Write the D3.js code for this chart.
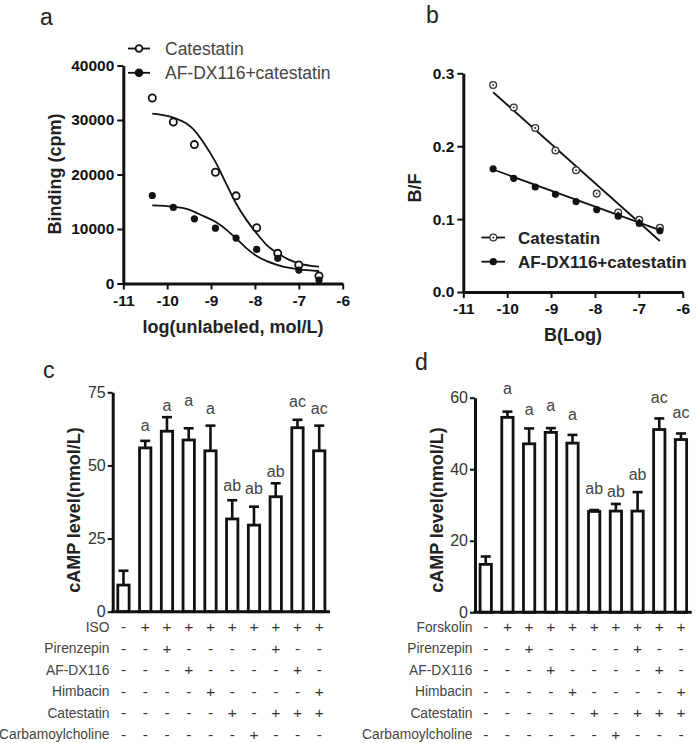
<!DOCTYPE html>
<html>
<head>
<meta charset="UTF-8">
<style>
  body { margin: 0; background: #fff; }
  svg { display: block; font-family: "Liberation Sans", Arial, sans-serif; }
  .tick text { font-family: "Liberation Sans", Arial, sans-serif; }
</style>
</head>
<body>
<svg></svg>
<script src="https://d3js.org/d3.v7.min.js"></script>
<script>
let width = 697, height = 743;

// ---- panel a : competitive binding ----
var bindX   = [-10.34, -9.86, -9.38, -8.9, -8.43, -7.96, -7.48, -7.0, -6.54];
var bindCat = [34030, 29630, 25490, 20420, 16080, 10220, 5530, 3390, 1370];
var bindAF  = [16150, 13960, 11870, 10160, 8330, 6260, 4620, 2470, 640];
// fitted curves
var fitX    = [-10.34, -9.86, -9.56, -9.38, -9.18, -8.9, -8.64, -8.43, -8.19, -7.96, -7.73, -7.48, -7.24, -7.0, -6.54];
var fitCat  = [31170, 30440, 29340, 28110, 25970, 22310, 18040, 14690, 11630, 9190, 7050, 5530, 4430, 3700, 3080];
var fitAF   = [14320, 14070, 13700, 13150, 12400, 11320, 9800, 8280, 6450, 5040, 4100, 3390, 2900, 2600, 2290];

// ---- panel b : B/F plot ----
var scatX = [-10.32, -9.85, -9.36, -8.9, -8.43, -7.96, -7.47, -6.99, -6.52];
var bfCat = [0.284, 0.253, 0.225, 0.194, 0.167, 0.135, 0.109, 0.099, 0.088];
var bfAF  = [0.169, 0.156, 0.144, 0.134, 0.124, 0.113, 0.104, 0.094, 0.084];
var lineCat = [[-10.32, 0.274], [-6.52, 0.070]];
var lineAF  = [[-10.32, 0.168], [-6.52, 0.085]];

var seriesNames = ["Catestatin", "AF-DX116+catestatin"];
var logTicks = [-11, -10, -9, -8, -7, -6];

// ---- panels c, d : cAMP ----
var groups = d3.range(1, 11);
var cMean = [9.1, 56.0, 61.7, 58.7, 55.0, 31.7, 29.6, 39.3, 62.9, 55.0];
var cSem  = [4.9, 2.4, 4.8, 4.0, 8.6, 6.4, 6.3, 4.6, 2.7, 8.6];
var cSigAt = [null, 63.2, 70.3, 72.0, 69.0, 42.7, 41.9, 47.5, 71.5, 69.2];
var dMean = [13.4, 54.5, 47.1, 50.3, 47.3, 28.2, 28.3, 28.3, 51.1, 48.3];
var dSem  = [2.2, 1.6, 4.3, 1.2, 2.3, 0.4, 2.0, 5.3, 3.1, 1.7];
var dSigAt = [null, 62.3, 56.5, 57.6, 55.1, 34.2, 33.6, 38.2, 59.8, 55.6];
var sigLabels = ["", "a", "a", "a", "a", "ab", "ab", "ab", "ac", "ac"];

var cRows = ["ISO", "Pirenzepin", "AF-DX116", "Himbacin", "Catestatin", "Carbamoylcholine"];
var dRows = ["Forskolin", "Pirenzepin", "AF-DX116", "Himbacin", "Catestatin", "Carbamoylcholine"];
var treat = [
  "-+++++++++",
  "--+----+--",
  "---+----+-",
  "----+----+",
  "-----+-+++",
  "------+---"
];

let svg = d3.select("svg")
    .attr("width", width)
    .attr("height", height)
    .attr("viewBox", "0 0 " + width + " " + height);

// plain hyphen for negatives, like the original figure
let hyphenFmt = d => String(d);

function styleAxis(g, fontSize, weight, color) {
    g.select(".domain").attr("stroke", "#111").attr("stroke-width", 3);
    g.selectAll(".tick line").attr("stroke", "#111").attr("stroke-width", 2);
    g.selectAll(".tick text")
        .attr("font-size", fontSize)
        .attr("font-weight", weight)
        .attr("fill", color);
}

function panelLetter(t, x, y) {
    svg.append("text").attr("x", x).attr("y", y)
        .attr("font-size", 23).attr("fill", "#222").text(t);
}

function yTitle(t, x, y) {
    svg.append("text")
        .attr("transform", "translate(" + x + "," + y + ") rotate(-90)")
        .attr("text-anchor", "middle")
        .attr("font-size", 18).attr("font-weight", "bold").attr("fill", "#222")
        .text(t);
}

// ================= panel a =================
panelLetter("a", 40, 25);
let ax = d3.scaleLinear().domain([-11, -6]).range([123.3, 342.7]);
let ay = d3.scaleLinear().domain([0, 40000]).range([283.5, 65.5]);

svg.append("g").attr("transform", "translate(0,283.5)")
    .call(d3.axisBottom(ax).tickValues(logTicks).tickFormat(hyphenFmt).tickSize(6).tickSizeOuter(0).tickPadding(5))
    .call(g => styleAxis(g, 15.5, "bold", "#111"));
svg.append("g").attr("transform", "translate(123.3,0)")
    .call(d3.axisLeft(ay).tickValues([0, 10000, 20000, 30000, 40000]).tickFormat(d3.format("d")).tickSize(6).tickSizeOuter(0).tickPadding(3))
    .call(g => styleAxis(g, 15.5, "bold", "#111"));

svg.append("text").attr("x", 233).attr("y", 333)
    .attr("text-anchor", "middle").attr("font-size", 18).attr("font-weight", "bold").attr("fill", "#222")
    .text("log(unlabeled, mol/L)");
yTitle("Binding (cpm)", 61, 174);

let fitLine = d3.line().x((d, i) => ax(fitX[i])).y(d => ay(d)).curve(d3.curveMonotoneX);
[fitCat, fitAF].forEach(s => {
    svg.append("path").attr("d", fitLine(s))
        .attr("fill", "none").attr("stroke", "#111").attr("stroke-width", 1.8);
});
svg.append("g").selectAll("circle").data(bindCat).enter().append("circle")
    .attr("cx", (d, i) => ax(bindX[i])).attr("cy", d => ay(d)).attr("r", 3.6)
    .attr("fill", "#fff").attr("stroke", "#111").attr("stroke-width", 1.8);
svg.append("g").selectAll("circle").data(bindAF).enter().append("circle")
    .attr("cx", (d, i) => ax(bindX[i])).attr("cy", d => ay(d)).attr("r", 3.6)
    .attr("fill", "#111");

// legend a
seriesNames.forEach((n, i) => {
    let y = 48.5 + i * 24.3;
    svg.append("line").attr("x1", 128).attr("x2", 150).attr("y1", y).attr("y2", y)
        .attr("stroke", "#111").attr("stroke-width", 1.8);
    svg.append("circle").attr("cx", 139).attr("cy", y).attr("r", 3.4)
        .attr("fill", i == 0 ? "#fff" : "#111").attr("stroke", "#111").attr("stroke-width", 1.8);
    svg.append("text").attr("x", 165).attr("y", y).attr("dy", "0.36em")
        .attr("font-size", 17.5).attr("fill", "#444").text(n);
});

// ================= panel b =================
panelLetter("b", 426, 23);
let bx = d3.scaleLinear().domain([-11, -6]).range([463.3, 682.7]);
let by = d3.scaleLinear().domain([0, 0.3]).range([292, 73.3]);

svg.append("g").attr("transform", "translate(0,292)")
    .call(d3.axisBottom(bx).tickValues(logTicks).tickFormat(hyphenFmt).tickSize(6).tickSizeOuter(0).tickPadding(5))
    .call(g => styleAxis(g, 15.5, "bold", "#111"));
svg.append("g").attr("transform", "translate(463.3,0)")
    .call(d3.axisLeft(by).tickValues([0, 0.1, 0.2, 0.3]).tickFormat(d3.format(".1f")).tickSize(6).tickSizeOuter(0).tickPadding(3))
    .call(g => styleAxis(g, 15.5, "bold", "#111"));

svg.append("text").attr("x", 573).attr("y", 341)
    .attr("text-anchor", "middle").attr("font-size", 18).attr("font-weight", "bold").attr("fill", "#222")
    .text("B(Log)");
yTitle("B/F", 421, 188);

let segLine = d3.line().x(d => bx(d[0])).y(d => by(d[1]));
[lineCat, lineAF].forEach(s => {
    svg.append("path").attr("d", segLine(s))
        .attr("fill", "none").attr("stroke", "#111").attr("stroke-width", 1.8);
});
let catG = svg.append("g").selectAll("g").data(bfCat).enter().append("g")
    .attr("transform", (d, i) => "translate(" + bx(scatX[i]) + "," + by(d) + ")");
catG.append("circle").attr("r", 3.4).attr("fill", "#fff").attr("stroke", "#333").attr("stroke-width", 1.3);
catG.append("circle").attr("r", 1).attr("fill", "#333");
svg.append("g").selectAll("circle").data(bfAF).enter().append("circle")
    .attr("cx", (d, i) => bx(scatX[i])).attr("cy", d => by(d)).attr("r", 3.6)
    .attr("fill", "#111");

seriesNames.forEach((n, i) => {
    let y = 237.5 + i * 24.2;
    svg.append("line").attr("x1", 481.5).attr("x2", 505).attr("y1", y).attr("y2", y)
        .attr("stroke", "#111").attr("stroke-width", 1.8);
    if (i == 0) {
        svg.append("circle").attr("cx", 493.3).attr("cy", y).attr("r", 3.4)
            .attr("fill", "#fff").attr("stroke", "#333").attr("stroke-width", 1.3);
        svg.append("circle").attr("cx", 493.3).attr("cy", y).attr("r", 1).attr("fill", "#333");
    } else {
        svg.append("circle").attr("cx", 493.3).attr("cy", y).attr("r", 3.6).attr("fill", "#111");
    }
    svg.append("text").attr("x", 518).attr("y", y).attr("dy", "0.36em")
        .attr("font-size", 17).attr("font-weight", "bold").attr("fill", "#222").text(n);
});

// ================= panels c and d =================
function barPanel(opt) {
    let x = d3.scaleBand().domain(groups).range([opt.x0, opt.x1]).paddingInner(0.35).paddingOuter(0.17);
    let y = d3.scaleLinear().domain([0, opt.ymax]).range([opt.yBase, opt.yTop]);
    let bw = x.bandwidth();
    let mid = i => x(groups[i]) + bw / 2;

    panelLetter(opt.letter, opt.lx, opt.ly);
    yTitle("cAMP level(nmol/L)", opt.titleX, 510);

    // error bars (upper only)
    let eb = svg.append("g");
    opt.mean.forEach((m, i) => {
        let top = y(m + opt.sem[i]);
        eb.append("line").attr("x1", mid(i)).attr("x2", mid(i)).attr("y1", y(m)).attr("y2", top)
            .attr("stroke", "#111").attr("stroke-width", 2.6);
        eb.append("line").attr("x1", mid(i) - 5).attr("x2", mid(i) + 5).attr("y1", top).attr("y2", top)
            .attr("stroke", "#111").attr("stroke-width", 2.6);
    });

    svg.append("g").selectAll("rect").data(opt.mean).enter().append("rect")
        .attr("x", (d, i) => x(groups[i]) + 1.4)
        .attr("width", bw - 2.8)
        .attr("y", d => y(d))
        .attr("height", d => opt.yBase - y(d))
        .attr("fill", "#fff").attr("stroke", "#111").attr("stroke-width", 2.8);

    // significance letters
    let sg = svg.append("g");
    sigLabels.forEach((s, i) => {
        if (opt.sigAt[i] == null) return;
        sg.append("text").attr("x", mid(i)).attr("y", y(opt.sigAt[i])).attr("dy", "0.28em")
            .attr("text-anchor", "middle").attr("font-size", 16).attr("fill", "#444").text(s);
    });

    // axes
    svg.append("g").attr("transform", "translate(" + opt.x0 + ",0)")
        .call(d3.axisLeft(y).tickValues(opt.ticks).tickSize(5).tickSizeOuter(0).tickPadding(2))
        .call(g => styleAxis(g, 16, "normal", "#333"));
    svg.append("line").attr("x1", opt.x0 - 1.5).attr("x2", opt.x1).attr("y1", opt.yBase).attr("y2", opt.yBase)
        .attr("stroke", "#111").attr("stroke-width", 3);

    // treatment table
    opt.rows.forEach((r, ri) => {
        let ry = 626.7 + ri * 21.5;
        svg.append("text").attr("x", opt.labelRight).attr("y", ry).attr("dy", "0.36em")
            .attr("text-anchor", "end").attr("font-size", 13.8).attr("fill", "#444").text(r);
        treat[ri].split("").forEach((s, gi) => {
            svg.append("text").attr("x", mid(gi)).attr("y", ry).attr("dy", "0.36em")
                .attr("text-anchor", "middle").attr("font-size", 15.5).attr("fill", "#333").text(s);
        });
    });
}

barPanel({
    letter: "c", lx: 43, ly: 378,
    x0: 112.7, x1: 330, yBase: 611.7, yTop: 392.3, ymax: 75, ticks: [0, 25, 50, 75],
    mean: cMean, sem: cSem, sigAt: cSigAt, rows: cRows, labelRight: 109.5, titleX: 80
});
barPanel({
    letter: "d", lx: 415, ly: 370,
    x0: 475, x1: 691.7, yBase: 612.3, yTop: 397.7, ymax: 60, ticks: [0, 20, 40, 60],
    mean: dMean, sem: dSem, sigAt: dSigAt, rows: dRows, labelRight: 472.5, titleX: 443
});
</script>
</body>
</html>
